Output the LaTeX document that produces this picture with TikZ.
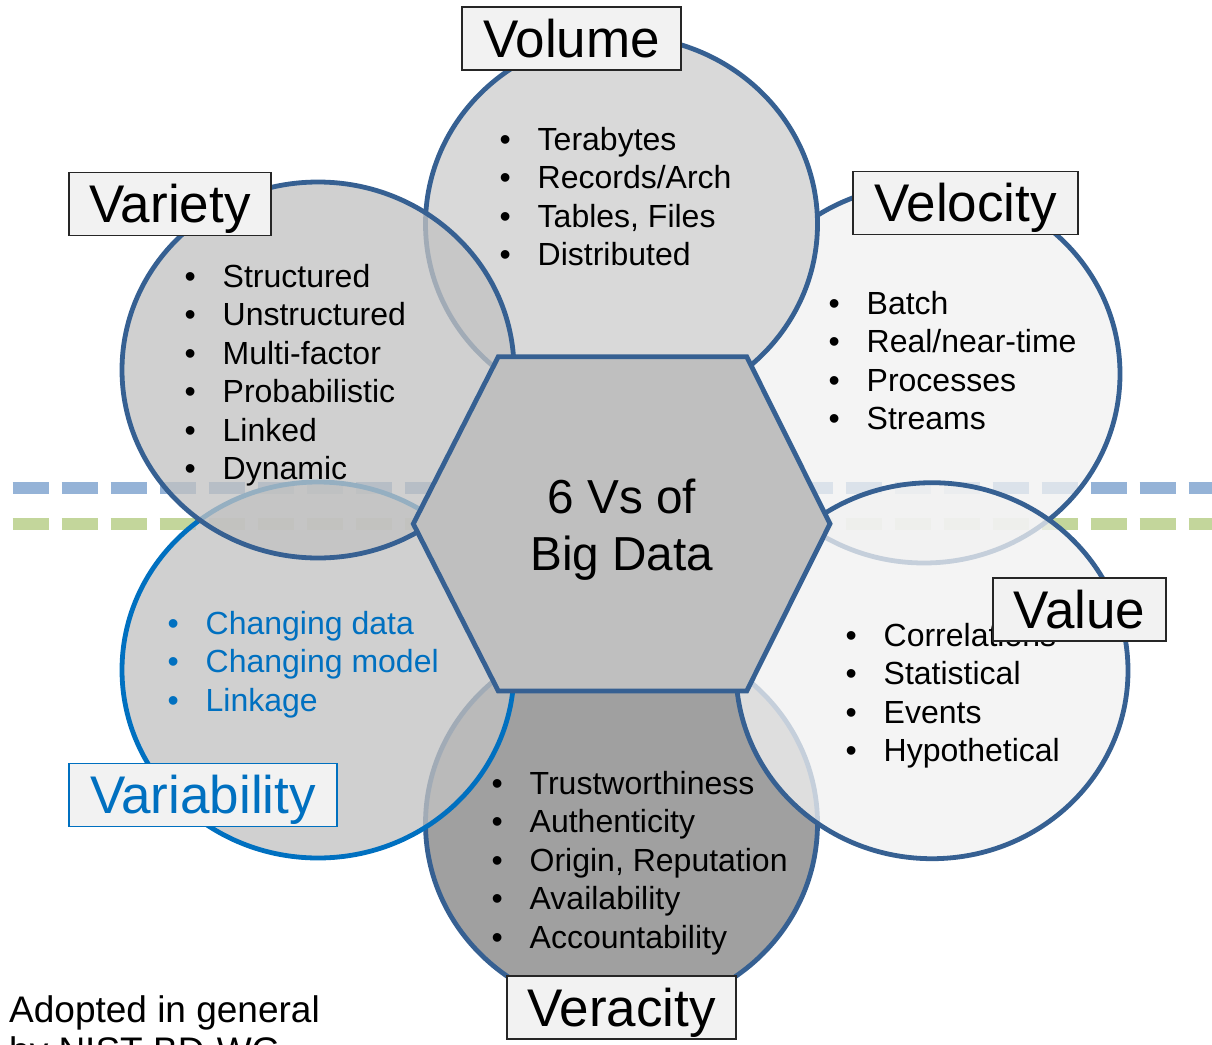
\documentclass[tikz,border=0pt]{standalone}
\usepackage{fontspec}
\setmainfont{Liberation Sans}

\definecolor{vsedge}{RGB}{54,96,146}
\definecolor{vsblue}{RGB}{0,112,192}
\definecolor{dashblue}{RGB}{149,179,215}
\definecolor{dashgreen}{RGB}{195,214,155}
\definecolor{tagfill}{RGB}{242,242,242}
\definecolor{hexfill}{RGB}{191,191,191}
\definecolor{volfill}{RGB}{217,217,217}
\definecolor{midfill}{RGB}{194,194,194}
\definecolor{palefill}{RGB}{241,241,241}
\definecolor{verfill}{RGB}{160,160,160}

% bullet with a fixed indent before the item text
\newcommand{\bitem}[1]{\makebox[38pt][l]{\textbullet}#1}

\begin{document}
\begin{tikzpicture}[x=1pt, y=-1pt,
  ring/.style={line width=4.8pt, draw=vsedge},
  soft/.style={fill opacity=0.77},
  tag/.style={draw=black!85, line width=1.2pt, fill=tagfill, inner sep=0pt,
    minimum height=63pt, text height=37pt, text depth=0pt,
    font=\fontsize{53}{60}\selectfont},
  blist/.style={anchor=base west, inner sep=0pt, font=\fontsize{32}{38.5}\selectfont},
  band/.style={line width=11.7pt, dash pattern=on 36.7pt off 12.3pt}]

\useasboundingbox (0,0) rectangle (1212,1044);

% dashed bands behind the circles
\draw[band, dashblue] (12.7,488) -- (1212,488);
\draw[band, dashgreen] (12.7,524) -- (1212,524);

% the six circles, back to front
\draw[ring, fill=palefill, soft] (924,374) ellipse [x radius=196, y radius=189]; % velocity
\draw[ring, fill=verfill] (621.5,823.5) ellipse [x radius=196, y radius=188];    % veracity
\draw[ring, fill=volfill] (621.5,224) ellipse [x radius=196, y radius=188];      % volume
\draw[ring, draw=vsblue, fill=midfill, soft] (318,670) ellipse [x radius=196, y radius=188]; % variability
\draw[ring, fill=midfill, soft] (318,370) ellipse [x radius=196, y radius=188];  % variety
\draw[ring, fill=palefill, soft] (932,670.7) ellipse [x radius=196, y radius=188]; % value

% hexagon in the middle
\draw[ring, fill=hexfill] (413.3,523.8) -- (498.3,356.7) -- (746.7,356.7)
  -- (830,523.8) -- (746.7,691) -- (498.3,691) -- cycle;
\node[anchor=base, inner sep=0pt, font=\fontsize{47.7}{57}\selectfont] (hub) at (621.7,513)
  {\begin{tabular}[t]{@{}c@{}}6 Vs of\\Big Data\end{tabular}};

% item lists
\node[blist] (volume-list) at (499.5,150) {\begin{tabular}[t]{@{}l@{}}
  \bitem{Terabytes}\\ \bitem{Records/Arch}\\ \bitem{Tables, Files}\\ \bitem{Distributed}
  \end{tabular}};
\node[blist] (variety-list) at (184.5,287) {\begin{tabular}[t]{@{}l@{}}
  \bitem{Structured}\\ \bitem{Unstructured}\\ \bitem{Multi-factor}\\
  \bitem{Probabilistic}\\ \bitem{Linked}\\ \bitem{Dynamic}
  \end{tabular}};
\node[blist] (velocity-list) at (828.5,314) {\begin{tabular}[t]{@{}l@{}}
  \bitem{Batch}\\ \bitem{Real/near-time}\\ \bitem{Processes}\\ \bitem{Streams}
  \end{tabular}};
\node[blist] (value-list) at (845.5,646) {\begin{tabular}[t]{@{}l@{}}
  \bitem{Correlations}\\ \bitem{Statistical}\\ \bitem{Events}\\ \bitem{Hypothetical}
  \end{tabular}};
\node[blist, text=vsblue] (variability-list) at (167.5,634) {\begin{tabular}[t]{@{}l@{}}
  \bitem{Changing data}\\ \bitem{Changing model}\\ \bitem{Linkage}
  \end{tabular}};
\node[blist] (veracity-list) at (491.5,794) {\begin{tabular}[t]{@{}l@{}}
  \bitem{Trustworthiness}\\ \bitem{Authenticity}\\ \bitem{Origin, Reputation}\\
  \bitem{Availability}\\ \bitem{Accountability}
  \end{tabular}};

% title boxes
\node[tag, minimum width=219pt] (volume) at (571.5,38.5) {Volume};
\node[tag, minimum width=202pt] (variety) at (170,204) {Variety};
\node[tag, minimum width=225pt] (velocity) at (965.5,203) {Velocity};
\node[tag, minimum width=173pt] (value) at (1079.5,609.5) {Value};
\node[tag, minimum width=268pt, draw=vsblue, text=vsblue] (variability) at (203,795) {Variability};
\node[tag, minimum width=229pt] (veracity) at (621.5,1007.5) {Veracity};

% note in the corner
\node[anchor=base west, inner sep=0pt, font=\fontsize{37}{41.5}\selectfont] (note) at (9,1022)
  {\begin{tabular}[t]{@{}l@{}}Adopted in general\\by NIST BD-WG\end{tabular}};
\end{tikzpicture}
\end{document}
